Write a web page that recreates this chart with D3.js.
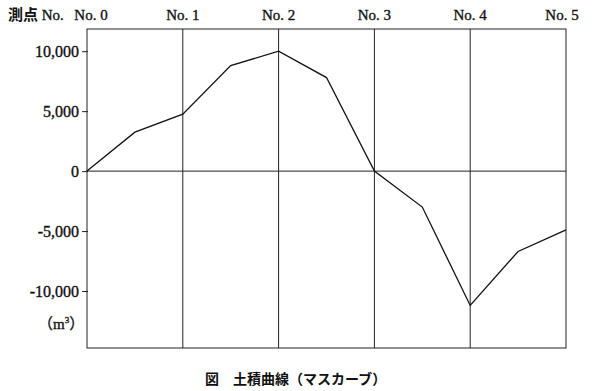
<!DOCTYPE html>
<html>
<head>
<meta charset="utf-8">
<script src="https://cdn.jsdelivr.net/npm/d3@7"></script>
<style>
  body { margin: 0; background: #fff; }
  text { fill: #111; }
  .heavy { stroke: #111; stroke-width: 0.35px; }
</style>
</head>
<body>
<div id="container"></div>
<script>
// stations along the route (half-station points included)
var stations = [0, 0.5, 1, 1.5, 2, 2.5, 3, 3.5, 4, 4.5, 5];
// cumulative earth volume (m3)
var volumes = [0, 3250, 4750, 8800, 10000, 7800, 0, -3000, -11200, -6700, -4900];
var stationLabels = ['No. 0', 'No. 1', 'No. 2', 'No. 3', 'No. 4', 'No. 5'];
var yTicks = [10000, 5000, 0, -5000, -10000];

var w = 600, h = 391;
var margin = {top: 29, right: 34, bottom: 43, left: 87};

var svg = d3.select('div#container')
  .append('svg')
  .attr('width', w)
  .attr('height', h);

var x = d3.scaleLinear().domain([0, 5]).range([margin.left, w - margin.right]);
var y = d3.scaleLinear().domain([-14750, 11850]).range([h - margin.bottom, margin.top]);

var serif = '"Liberation Serif", "DejaVu Serif", serif';
var jp = '"Noto Sans CJK JP", sans-serif';

// vertical station lines
svg.selectAll('line.st')
  .data(d3.range(1, 5))
  .enter().append('line')
  .attr('x1', function(d) { return x(d); })
  .attr('x2', function(d) { return x(d); })
  .attr('y1', margin.top)
  .attr('y2', h - margin.bottom)
  .attr('stroke', '#222')
  .attr('stroke-width', 1);

// zero line
svg.append('line')
  .attr('x1', margin.left).attr('x2', w - margin.right)
  .attr('y1', y(0)).attr('y2', y(0))
  .attr('stroke', '#222').attr('stroke-width', 1);

// frame
svg.append('rect')
  .attr('x', margin.left).attr('y', margin.top)
  .attr('width', w - margin.left - margin.right)
  .attr('height', h - margin.top - margin.bottom)
  .attr('fill', 'none')
  .attr('stroke', '#222')
  .attr('stroke-width', 1);

// y axis ticks
var yAxis = d3.axisLeft(y)
  .tickValues(yTicks)
  .tickSizeInner(6)
  .tickSizeOuter(0)
  .tickPadding(3)
  .tickFormat(d3.format(','));
var ya = svg.append('g')
  .attr('transform', 'translate(' + (margin.left + 1) + ',0)')
  .call(yAxis);
ya.select('.domain').remove();
ya.selectAll('.tick line').attr('stroke', '#222');
ya.selectAll('.tick text')
  .attr('class', 'heavy')
  .style('font-family', serif)
  .style('font-size', '16px')
  .attr('fill', '#111')
  .text(function(d) { return d3.format(',')(d).replace('−', '-'); });

// top station labels
svg.selectAll('text.stl')
  .data(stationLabels)
  .enter().append('text')
  .attr('class', 'heavy')
  .attr('x', function(d, i) { return x(i) + (i === 0 ? 4 : 0) - (i === 5 ? 4 : 0); })
  .attr('y', 20)
  .attr('text-anchor', 'middle')
  .style('font-family', serif)
  .style('font-size', '15px')
  .text(function(d) { return d; });

var head = svg.append('text')
  .attr('x', 8).attr('y', 20)
  .style('font-size', '15px');
head.append('tspan').style('font-family', jp).style('font-weight', 'bold').text('測点');
head.append('tspan').attr('class', 'heavy').style('font-family', serif).text(' No.');

// unit
var unit = svg.append('text')
  .attr('class', 'heavy')
  .attr('x', 38).attr('y', 329)
  .style('font-family', serif)
  .style('font-size', '15px');
unit.append('tspan').style('font-family', jp).text('（');
unit.append('tspan').text('m');
unit.append('tspan').attr('dy', -6).style('font-size', '9px').text('3');
unit.append('tspan').attr('dy', 6).style('font-family', jp).text('）');

// mass curve
var line = d3.line()
  .x(function(d, i) { return x(stations[i]); })
  .y(function(d) { return y(d); });

svg.append('path')
  .datum(volumes)
  .attr('d', line)
  .attr('fill', 'none')
  .attr('stroke', '#111')
  .attr('stroke-width', 1.3)
  .attr('stroke-linejoin', 'miter');

// caption
svg.append('text')
  .attr('x', 205).attr('y', 384)
  .style('font-family', jp)
  .style('font-size', '14px')
  .style('font-weight', 'bold')
  .text('図　土積曲線（マスカーブ）');
</script>
</body>
</html>
